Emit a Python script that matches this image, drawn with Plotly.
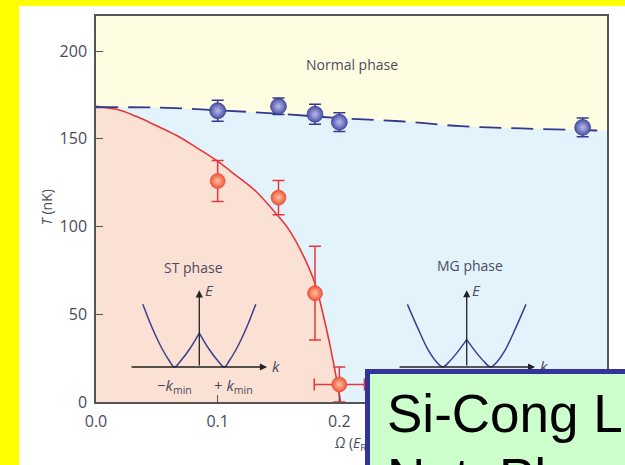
import plotly.graph_objects as go

# ---- measured phase-diagram data -------------------------------------------
# normal / magnetized boundary (blue points)
omega_blue = [0.10, 0.15, 0.18, 0.20, 0.40]
t_blue = [166.0, 168.5, 164.0, 159.5, 156.5]
t_blue_err = [6.0, 4.7, 5.7, 5.4, 5.3]

# stripe / magnetized boundary (red points)
omega_red = [0.10, 0.15, 0.18, 0.20]
t_red = [126.0, 116.5, 62.0, 10.0]
t_red_err = [11.7, 9.8, 26.7, 10.0]
omega_red_err = [0.0, 0.0, 0.0, 0.0206]

# theory curve: ST / MG transition
omega_st = [0.0, 0.017, 0.033, 0.049, 0.066, 0.082, 0.099, 0.115, 0.132,
            0.148, 0.158, 0.170, 0.180, 0.188, 0.193, 0.198, 0.201]
t_st = [168.5, 166.8, 162.8, 157.7, 152.0, 145.3, 137.7, 129.2, 119.7,
        107.3, 98.8, 84.0, 67.5, 46.0, 30.0, 12.0, 0.0]

# theory curve: normal / MG transition (dashed)
omega_nm = [0.0, 0.05, 0.10, 0.15, 0.20, 0.25, 0.30, 0.35, 0.42]
t_nm = [168.0, 167.8, 166.3, 164.3, 161.8, 160.0, 157.2, 155.9, 154.6]

# schematic dispersions for the two insets (k in units of k_min)
st_k = [-2.26, -1.9, -1.5, -1.2, -1.0, -0.7, -0.4, 0.0, None,
        0.0, 0.4, 0.7, 1.0, 1.2, 1.5, 1.9, 2.26]
st_e = [2.51, 1.6, 0.75, 0.25, 0.0, 0.3, 0.7, 1.36, None,
        1.36, 0.7, 0.3, 0.0, 0.25, 0.75, 1.6, 2.51]
mg_k = [-2.47, -2.05, -1.6, -1.25, -1.0, -0.7, -0.4, 0.0, None,
        0.0, 0.4, 0.7, 1.0, 1.25, 1.6, 2.05, 2.47]
mg_e = [2.61, 1.65, 0.7, 0.2, 0.0, 0.25, 0.6, 1.14, None,
        1.14, 0.6, 0.25, 0.0, 0.2, 0.7, 1.65, 2.61]

x_ticks = [0.0, 0.1, 0.2, 0.3, 0.4]
y_ticks = [0, 50, 100, 150, 200]

# ---- colours ----------------------------------------------------------------
NORMAL_BG = "#FFFDE1"
MG_BG = "#E2F3FC"
ST_BG = "#FBE0D4"
RED = "#E8363A"
NAVY = "#343890"
TXT = "#4A4C5E"
FONT = "Open Sans"

fig = go.Figure()

# phase regions
fig.add_trace(go.Scatter(x=omega_nm, y=t_nm, mode="lines", fill="tozeroy",
                         fillcolor=MG_BG, line=dict(width=0), hoverinfo="skip",
                         showlegend=False))
fig.add_trace(go.Scatter(x=omega_st, y=t_st, mode="lines", fill="tozeroy",
                         fillcolor=ST_BG, line=dict(color=RED, width=1.6, shape="spline"),
                         showlegend=False))
fig.add_trace(go.Scatter(x=omega_nm, y=t_nm, mode="lines",
                         line=dict(color=NAVY, width=1.8, dash="22px,10px", shape="spline"),
                         showlegend=False))

# data points (shaded spheres: light core, saturated rim)
fig.add_trace(go.Scatter(
    x=omega_blue, y=t_blue, mode="markers",
    error_y=dict(type="data", array=t_blue_err, color=NAVY, thickness=1.5, width=6),
    marker=dict(size=16, color="#4B50A8",
                gradient=dict(type="radial", color="#B9BDEB"),
                line=dict(color="#2E3180", width=0.6)),
    showlegend=False))
fig.add_trace(go.Scatter(
    x=omega_red, y=t_red, mode="markers",
    error_y=dict(type="data", array=t_red_err, color=RED, thickness=1.5, width=6),
    error_x=dict(type="data", array=omega_red_err, color=RED, thickness=1.5, width=6),
    marker=dict(size=15, color="#EE5533",
                gradient=dict(type="radial", color="#FFC2A8"),
                line=dict(color="#E8443A", width=0.6)),
    showlegend=False))

# inset dispersions
fig.add_trace(go.Scatter(x=st_k, y=st_e, mode="lines", xaxis="x2", yaxis="y2",
                         line=dict(color="#3C3F90", width=1.5, shape="spline"),
                         connectgaps=False, showlegend=False))
fig.add_trace(go.Scatter(x=mg_k, y=mg_e, mode="lines", xaxis="x3", yaxis="y3",
                         line=dict(color="#3C3F90", width=1.5, shape="spline"),
                         connectgaps=False, showlegend=False))

annotations = []


def inset_axes(xr, yr, k_lo, k_hi, e_top, minus_lbl=True):
    """Arrowed E/k axes plus labels for one inset."""
    out = [
        dict(xref=xr, yref=yr, axref=xr, ayref=yr, x=k_hi, y=0, ax=k_lo, ay=0,
             text="", showarrow=True, arrowhead=2, arrowsize=1.1, arrowwidth=1.3,
             arrowcolor="#222222", standoff=0, startstandoff=0),
        dict(xref=xr, yref=yr, axref=xr, ayref=yr, x=0, y=e_top, ax=0, ay=0,
             text="", showarrow=True, arrowhead=2, arrowsize=1.1, arrowwidth=1.3,
             arrowcolor="#222222", standoff=0, startstandoff=0),
        dict(xref=xr, yref=yr, x=0.15, y=e_top, text="<i>E</i>", showarrow=False,
             xanchor="left", yanchor="middle", font=dict(family=FONT, size=15, color=TXT)),
        dict(xref=xr, yref=yr, x=k_hi + 0.12, y=0.05, text="<i>k</i>", showarrow=False,
             xanchor="left", yanchor="middle", font=dict(family=FONT, size=15, color=TXT)),
    ]
    if minus_lbl:
        out += [
            dict(xref=xr, yref=yr, x=-1.0, y=-0.75, text="\u2212<i>k</i><sub>min</sub>",
                 showarrow=False, font=dict(family=FONT, size=15, color=TXT)),
            dict(xref=xr, yref=yr, x=1.35, y=-0.75, text="+ <i>k</i><sub>min</sub>",
                 showarrow=False, font=dict(family=FONT, size=15, color=TXT)),
        ]
    return out


annotations += inset_axes("x2", "y2", -2.77, 2.71, 3.07)
annotations += inset_axes("x3", "y3", -2.86, 2.85, 3.2, minus_lbl=False)

# phase names
for txt, x, y in [("Normal phase", 0.2103, 192.4), ("ST phase", 0.0798, 76.4),
                  ("MG phase", 0.3072, 77.9)]:
    annotations.append(dict(x=x, y=y, xref="x", yref="y", text=txt, showarrow=False,
                            font=dict(family=FONT, size=14, color=TXT)))

# axis titles
annotations.append(dict(xref="paper", yref="paper", x=0.5, y=-0.107,
                        text="<i>\u03a9</i> (<i>E</i><sub>R</sub>)", showarrow=False,
                        yanchor="middle", font=dict(family=FONT, size=14, color=TXT)))
annotations.append(dict(xref="paper", yref="paper", x=-0.0965, y=0.504,
                        text="<i>T</i> (nK)", textangle=-90, showarrow=False,
                        xanchor="center", yanchor="middle",
                        font=dict(family=FONT, size=14, color=TXT)))

# citation box
annotations.append(dict(xref="paper", yref="paper", x=0.5264, y=0.0865,
                        xanchor="left", yanchor="top", text=" ", showarrow=False,
                        width=360, height=160, bgcolor="#CCFFCC",
                        bordercolor="#333399", borderwidth=5, borderpad=0))
annotations.append(dict(xref="paper", yref="paper", x=0.5655, y=-0.030,
                        xanchor="left", yanchor="middle", text="Si-Cong Li",
                        showarrow=False,
                        font=dict(family="Liberation Sans", size=53, color="#000000")))
annotations.append(dict(xref="paper", yref="paper", x=0.5655, y=-0.195,
                        xanchor="left", yanchor="middle", text="Nat. Phys.",
                        showarrow=False,
                        font=dict(family="Liberation Sans", size=53, color="#000000")))

# page frame strips and normal-phase background
shapes = [
    dict(type="rect", xref="x", yref="y", x0=0, x1=0.42, y0=0, y1=220,
         fillcolor=NORMAL_BG, line=dict(width=0), layer="below"),
    dict(type="rect", xref="paper", yref="paper", x0=-0.2, x1=-0.1501, y0=-0.25, y1=1.1,
         fillcolor="#FFFF00", line=dict(width=0), layer="below"),
    dict(type="rect", xref="paper", yref="paper", x0=-0.2, x1=1.1, y0=1.0259, y1=1.1,
         fillcolor="#FFFF00", line=dict(width=0), layer="below"),
]

axis_common = dict(showgrid=False, zeroline=False, showline=True, linecolor="#555555",
                   linewidth=1.5, mirror=True, ticks="inside", ticklen=7,
                   tickwidth=1.3, tickcolor="#555555",
                   tickfont=dict(family=FONT, size=16, color=TXT))

fig.update_layout(
    width=625, height=465,
    margin=dict(l=96, r=18, t=16, b=63),
    paper_bgcolor="#FFFFFF",
    plot_bgcolor="rgba(0,0,0,0)",
    xaxis=dict(range=[0, 0.42], tickvals=x_ticks, tickformat=".1f",
               ticklabelstandoff=4, **axis_common),
    yaxis=dict(range=[0, 220], tickvals=y_ticks, ticklabelstandoff=4, **axis_common),
    xaxis2=dict(domain=[0.0554, 0.3489], range=[-3, 3], visible=False, anchor="y2"),
    yaxis2=dict(domain=[0.0259, 0.2979], range=[-1, 3.2], visible=False, anchor="x2"),
    xaxis3=dict(domain=[0.5845, 0.8664], range=[-3, 3], visible=False, anchor="y3"),
    yaxis3=dict(domain=[0.0285, 0.2959], range=[-1, 3.3], visible=False, anchor="x3"),
    annotations=annotations,
    shapes=shapes,
    showlegend=False,
)

fig.write_html("out.html")
